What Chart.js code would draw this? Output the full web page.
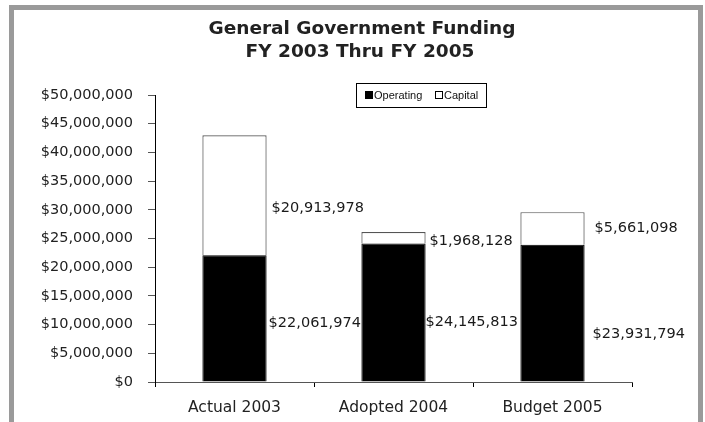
<!DOCTYPE html>
<html>
<head>
<meta charset="utf-8">
<script src="https://cdn.jsdelivr.net/npm/chart.js@4/dist/chart.umd.min.js"></script>
<style>
  html, body { margin: 0; padding: 0; background: #fff; }
  #wrap { position: relative; width: 705px; height: 422px; overflow: hidden; }
  #frame {
    position: absolute; left: 9px; top: 5px; width: 684px; height: 430px;
    border-left: 5px solid #9a9a9a; border-top: 5px solid #9a9a9a; border-right: 5px solid #9a9a9a;
  }
  canvas { position: absolute; left: 0; top: 0; }
</style>
</head>
<body>
<div id="wrap">
  <div id="frame"></div>
  <canvas id="c" width="705" height="422"></canvas>
</div>
<script>
// Fiscal years shown on the category axis
const categories = ['Actual 2003', 'Adopted 2004', 'Budget 2005'];
// Funding by source, in dollars
const operating = [22061974, 24145813, 23931794];
const capital = [20913978, 1968128, 5661098];
// Value axis range and step
const yMax = 50000000;
const yStep = 5000000;

const titleLines = ['General Government Funding', 'FY 2003 Thru FY 2005'];
const seriesNames = ['Operating', 'Capital'];

// Offsets [dx, dy] for the value labels beside each bar segment
const labelNudge = {
  Operating: [[2, 4.5], [0, 9.5], [8, 21]],
  Capital: [[5, 13], [4, 3.5], [10, 0]]
};

const money = v => '$' + Math.round(v).toLocaleString('en-US');
const axisFont = { family: 'DejaVu Sans', size: 14.5 };

const titlePlugin = {
  id: 'titleText',
  afterDraw(chart) {
    const ctx = chart.ctx;
    ctx.save();
    ctx.fillStyle = '#222';
    ctx.font = 'bold 18.5px "DejaVu Sans"';
    ctx.textAlign = 'center';
    ctx.textBaseline = 'middle';
    ctx.fillText(titleLines[0], 362, 29);
    ctx.fillText(titleLines[1], 360, 52);
    ctx.restore();
  }
};

const valueLabels = {
  id: 'valueLabels',
  afterDatasetsDraw(chart) {
    const ctx = chart.ctx;
    ctx.save();
    ctx.fillStyle = '#1a1a1a';
    ctx.font = '14.5px "DejaVu Sans"';
    ctx.textAlign = 'left';
    ctx.textBaseline = 'middle';
    chart.data.datasets.forEach((ds, di) => {
      const meta = chart.getDatasetMeta(di);
      meta.data.forEach((bar, i) => {
        const nudge = labelNudge[ds.label][i];
        const right = bar.x + bar.width / 2;
        const mid = (bar.y + bar.base) / 2;
        ctx.fillText(money(ds.data[i]), right + nudge[0], mid + nudge[1]);
      });
    });
    ctx.restore();
  }
};

const boxLegend = {
  id: 'boxLegend',
  afterDraw(chart) {
    const ctx = chart.ctx;
    const x0 = 356.5, y0 = 83.5, w = 130, h = 24;
    ctx.save();
    ctx.fillStyle = '#fff';
    ctx.fillRect(x0, y0, w, h);
    ctx.strokeStyle = '#000';
    ctx.lineWidth = 1;
    ctx.strokeRect(x0, y0, w, h);
    ctx.font = '11px "Liberation Sans"';
    ctx.textBaseline = 'middle';
    ctx.textAlign = 'left';
    const items = [
      { x: 365, ds: chart.data.datasets[0] },
      { x: 435, ds: chart.data.datasets[1] }
    ];
    items.forEach(it => {
      ctx.fillStyle = it.ds.backgroundColor;
      ctx.fillRect(it.x + 0.5, 91.5, 7, 7);
      ctx.strokeStyle = '#000';
      ctx.strokeRect(it.x + 0.5, 91.5, 7, 7);
      ctx.fillStyle = '#111';
      ctx.fillText(it.ds.label, it.x + 9, 95.5);
    });
    ctx.restore();
  }
};

new Chart(document.getElementById('c'), {
  type: 'bar',
  data: {
    labels: categories,
    datasets: [
      {
        label: seriesNames[0],
        data: operating,
        backgroundColor: '#000',
        borderColor: '#000',
        borderWidth: 1,
        categoryPercentage: 0.8,
        barPercentage: 0.505
      },
      {
        label: seriesNames[1],
        data: capital,
        backgroundColor: '#fff',
        borderColor: '#555',
        borderWidth: 1.2,
        categoryPercentage: 0.8,
        barPercentage: 0.505
      }
    ]
  },
  options: {
    responsive: false,
    animation: false,
    devicePixelRatio: 1,
    layout: { padding: { left: 0, top: 95, right: 73, bottom: 0 } },
    plugins: {
      legend: { display: false },
      title: { display: false },
      tooltip: { enabled: false }
    },
    scales: {
      x: {
        stacked: true,
        grid: {
          offset: true,
          drawOnChartArea: false,
          drawTicks: true,
          tickLength: 5,
          color: '#000'
        },
        border: { color: '#555', width: 1 },
        ticks: { color: '#222', font: { family: 'DejaVu Sans', size: 15.5 }, padding: 12 },
        afterFit(s) { s.height = 40; }
      },
      y: {
        stacked: true,
        min: 0,
        max: yMax,
        grid: {
          drawOnChartArea: false,
          drawTicks: true,
          tickLength: 7,
          color: '#555'
        },
        border: { color: '#000', width: 1 },
        ticks: {
          stepSize: yStep,
          color: '#222',
          font: axisFont,
          padding: 15,
          callback: v => money(v)
        },
        afterFit(s) { s.width = 155; }
      }
    }
  },
  plugins: [titlePlugin, valueLabels, boxLegend]
});
</script>
</body>
</html>
